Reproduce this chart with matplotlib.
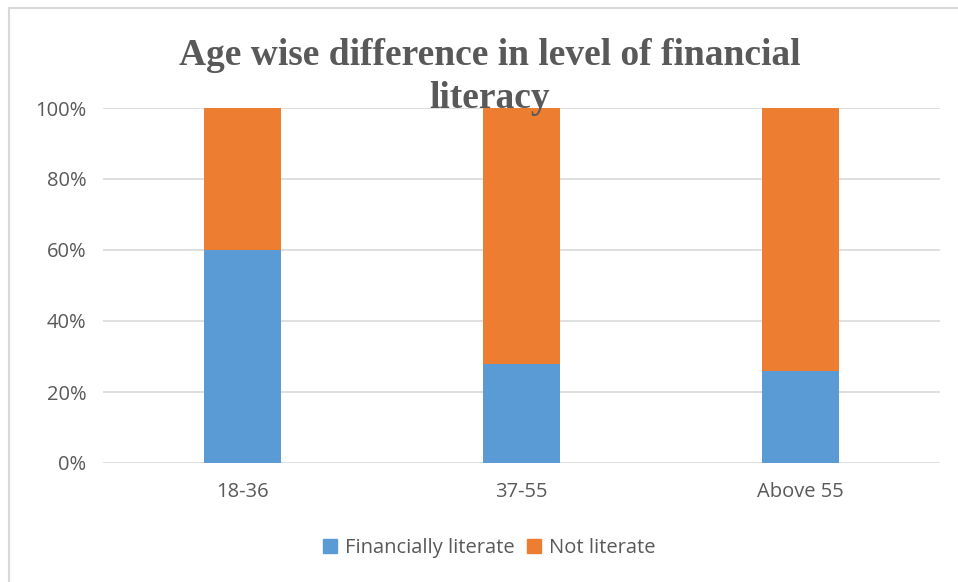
import matplotlib.pyplot as plt
from matplotlib.lines import Line2D
from matplotlib.ticker import PercentFormatter

categories = ["18-36", "37-55", "Above 55"]
financially_literate = [60, 28, 26]
not_literate = [40, 72, 74]
series_names = ["Financially literate", "Not literate"]
yticks = [0, 20, 40, 60, 80, 100]

blue = "#5B9BD5"
orange = "#ED7D31"
text_grey = "#595959"
grid_grey = "#D9D9D9"

W, H = 958, 582
fig = plt.figure(figsize=(W / 100, H / 100), dpi=100)
fig.patch.set_facecolor("white")

ax = fig.add_axes([103 / W, 1 - 463 / H, (940 - 103) / W, (463 - 108) / H])
x = range(len(categories))
ax.bar(x, financially_literate, width=0.276, color=blue, zorder=3)
ax.bar(x, not_literate, width=0.276, bottom=financially_literate, color=orange, zorder=3)

ax.set_xlim(-0.5, len(categories) - 0.5)
ax.set_ylim(0, 100)
ax.set_yticks(yticks)
ax.yaxis.set_major_formatter(PercentFormatter(decimals=0))
ax.set_xticks(list(x))
ax.set_xticklabels(categories)
ax.grid(axis="y", color=grid_grey, linewidth=1.2, zorder=0)
for s in ax.spines.values():
    s.set_visible(False)
ax.tick_params(length=0, labelsize=14.5, labelcolor=text_grey)
ax.tick_params(axis="y", pad=12)
ax.tick_params(axis="x", pad=14)
for lbl in ax.get_xticklabels() + ax.get_yticklabels():
    lbl.set_family("Open Sans")

# chart frame (left and top edges)
fig.add_artist(Line2D([9 / W, 9 / W], [0, 1 - 8 / H], transform=fig.transFigure,
                      color="#D9D9D9", linewidth=1.5))
fig.add_artist(Line2D([9 / W, 1], [1 - 8 / H, 1 - 8 / H], transform=fig.transFigure,
                      color="#D9D9D9", linewidth=1.5))

fig.text(490 / W, 1 - 77 / H, "Age wise difference in level of financial\nliteracy",
         ha="center", va="center", fontsize=27, fontweight="bold",
         family="Liberation Serif", color=text_grey, linespacing=1.28)

handles = [plt.Rectangle((0, 0), 1, 1, color=blue), plt.Rectangle((0, 0), 1, 1, color=orange)]
fig.legend(handles, series_names, loc="center", bbox_to_anchor=(489 / W, 1 - 548 / H),
           ncol=2, frameon=False, handlelength=0.7, handleheight=0.7, handletextpad=0.4,
           columnspacing=0.6, prop={"family": "Open Sans", "size": 14.5},
           labelcolor=text_grey)

fig.savefig("out.png", dpi=100, facecolor="white")
